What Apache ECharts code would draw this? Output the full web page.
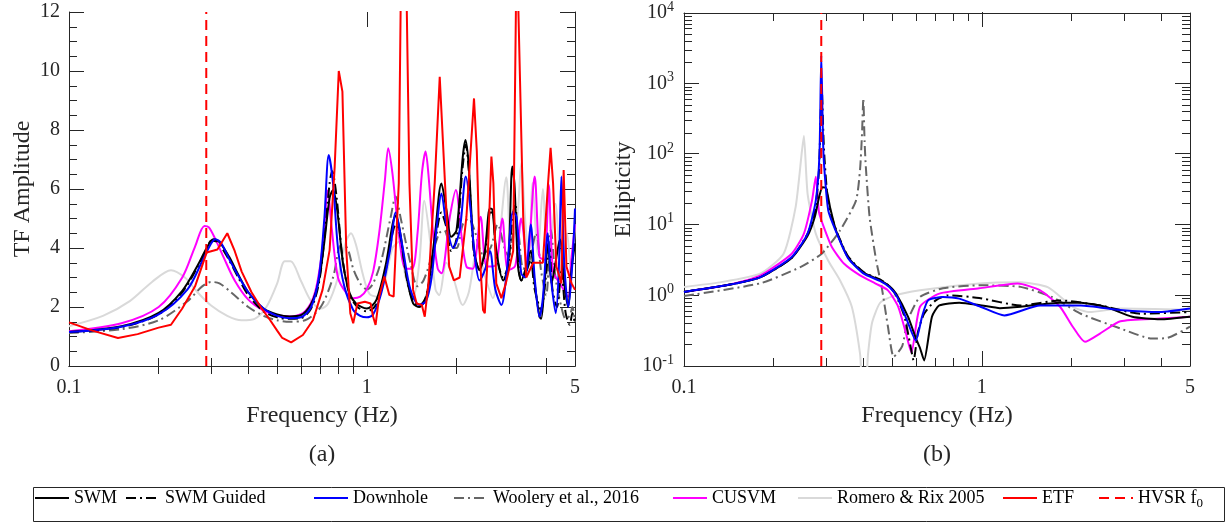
<!DOCTYPE html>
<html>
<head>
<meta charset="utf-8">
<script src="https://cdn.jsdelivr.net/npm/echarts@6/dist/echarts.min.js"></script>
<style>html,body{margin:0;padding:0;background:#fff}#c{width:1228px;height:527px}</style>
</head>
<body>
<div id="c"></div>
<script>
// ---------- tick definitions ----------
const freqLabels = [0.1, 1, 5];
const freqMinorTicks = [0.2, 0.3, 0.4, 0.5, 0.6, 0.7, 0.8, 0.9, 2, 3, 4];
const freqMajorTicks = [1];
const ellLabels = [0.1, 1, 10, 100, 1000, 10000];
const ellMajorTicks = [1, 10, 100, 1000];
const ellMinorTicks = [0.2,0.3,0.4,0.5,0.6,0.7,0.8,0.9,2,3,4,5,6,7,8,9,20,30,40,50,60,70,80,90,200,300,400,500,600,700,800,900,2000,3000,4000,5000,6000,7000,8000,9000];
const hvsrF0 = 0.289;

// ---------- (a) TF amplitude: [frequency Hz, amplitude] ----------
const tfSWM = [[0.1,1.15],[0.15,1.35],[0.2,1.8],[0.24,2.55],[0.27,3.4],[0.29,4.0],[0.305,4.3],[0.32,4.2],[0.345,3.7],[0.37,3.1],[0.4,2.5],[0.45,1.95],[0.5,1.75],[0.55,1.68],[0.6,1.72],[0.65,2.1],[0.69,2.9],[0.72,4.2],[0.75,5.7],[0.77,5.97],[0.795,5.3],[0.832,3.48],[0.876,2.46],[0.92,2.12],[1.0,1.95],[1.077,2.24],[1.16,3.48],[1.22,4.8],[1.25,5.1],[1.29,4.6],[1.36,3.03],[1.43,2.12],[1.5,2.0],[1.585,2.35],[1.69,4.38],[1.78,6.19],[1.85,5.3],[1.92,4.38],[2.0,4.6],[2.1,7.1],[2.145,7.66],[2.2,6.76],[2.29,3.93],[2.39,3.25],[2.49,3.9],[2.59,5.34],[2.64,5.3],[2.72,3.93],[2.87,2.9],[2.98,3.37],[3.08,6.76],[3.13,6.19],[3.22,3.37],[3.3,2.9],[3.43,3.37],[3.55,3.9],[3.66,2.8],[3.8,1.67],[3.85,1.6],[3.95,2.8],[4.06,4.16],[4.17,2.8],[4.3,3.5],[4.45,4.3],[4.6,2.8],[4.74,2.0],[4.87,3.3],[5.0,4.16]];
const tfSWMGuided = [[0.1,1.15],[0.15,1.32],[0.2,1.75],[0.24,2.5],[0.27,3.35],[0.29,3.95],[0.3,4.25],[0.315,4.2],[0.34,3.7],[0.37,3.0],[0.4,2.4],[0.45,1.85],[0.5,1.65],[0.55,1.6],[0.6,1.62],[0.65,1.95],[0.69,2.8],[0.72,4.3],[0.75,6.2],[0.765,6.6],[0.79,5.8],[0.83,3.6],[0.876,2.4],[0.93,2.0],[1.0,1.85],[1.077,2.1],[1.16,3.3],[1.22,4.5],[1.25,4.8],[1.29,4.5],[1.36,3.0],[1.43,2.2],[1.5,2.05],[1.585,2.4],[1.69,4.1],[1.78,5.2],[1.85,4.7],[1.92,3.9],[2.0,4.3],[2.1,6.8],[2.15,7.5],[2.2,6.6],[2.29,3.8],[2.39,3.3],[2.49,3.8],[2.6,5.2],[2.65,5.2],[2.72,3.8],[2.87,3.0],[2.98,3.4],[3.08,5.0],[3.15,5.5],[3.22,3.6],[3.3,2.9],[3.43,3.2],[3.55,3.6],[3.66,2.6],[3.85,1.9],[3.95,2.6],[4.1,4.0],[4.2,2.6],[4.35,2.0],[4.5,3.2],[4.65,1.8],[4.8,1.4],[4.9,1.8],[5.0,1.4]];
const tfDownhole = [[0.1,1.15],[0.15,1.33],[0.2,1.75],[0.25,2.6],[0.28,3.55],[0.3,4.15],[0.31,4.3],[0.325,4.15],[0.35,3.5],[0.4,2.5],[0.45,1.95],[0.5,1.7],[0.55,1.62],[0.6,1.65],[0.65,2.0],[0.69,3.0],[0.72,5.0],[0.745,7.15],[0.77,6.2],[0.8,4.0],[0.84,2.7],[0.9,1.9],[0.95,1.7],[1.0,1.65],[1.05,1.75],[1.12,2.5],[1.2,4.0],[1.25,5.2],[1.32,4.0],[1.4,2.6],[1.5,2.07],[1.58,2.2],[1.65,3.0],[1.72,4.8],[1.78,5.85],[1.85,4.8],[1.95,4.0],[2.05,4.6],[2.15,6.42],[2.22,5.5],[2.3,3.8],[2.39,2.9],[2.5,3.3],[2.59,3.9],[2.7,2.6],[2.83,2.07],[2.95,3.2],[3.1,5.23],[3.18,5.06],[3.3,3.14],[3.4,3.0],[3.55,4.8],[3.66,3.0],[3.8,1.67],[3.9,2.3],[4.05,4.5],[4.15,3.0],[4.31,1.79],[4.42,3.5],[4.5,6.42],[4.6,3.5],[4.75,2.0],[4.9,3.5],[5.0,5.34]];
const tfWoolery = [[0.1,1.12],[0.15,1.25],[0.2,1.55],[0.25,2.2],[0.28,2.7],[0.3,2.85],[0.32,2.8],[0.35,2.5],[0.4,2.0],[0.45,1.7],[0.5,1.55],[0.55,1.5],[0.62,1.55],[0.7,2.0],[0.77,3.0],[0.82,4.1],[0.86,4.0],[0.9,3.3],[0.95,2.8],[1.0,2.6],[1.05,2.8],[1.12,3.6],[1.2,5.0],[1.25,5.75],[1.3,5.0],[1.4,3.5],[1.48,2.7],[1.55,2.9],[1.65,3.7],[1.75,4.5],[1.82,4.6],[1.92,4.0],[2.0,4.0],[2.1,4.8],[2.2,5.0],[2.3,4.6],[2.45,3.8],[2.6,4.0],[2.75,4.8],[2.9,4.0],[3.0,3.7],[3.1,4.5],[3.2,4.6],[3.35,3.3],[3.5,3.5],[3.7,4.5],[3.85,3.2],[4.0,2.4],[4.15,4.6],[4.3,3.0],[4.5,2.0],[4.65,1.6],[4.8,1.7],[4.9,2.0],[5.0,1.5]];
const tfCUSVM = [[0.1,1.18],[0.15,1.45],[0.2,2.0],[0.24,3.0],[0.265,4.05],[0.285,4.75],[0.295,4.7],[0.31,4.3],[0.33,3.7],[0.36,2.9],[0.4,2.25],[0.45,1.88],[0.5,1.72],[0.56,1.68],[0.62,1.85],[0.67,2.5],[0.71,4.0],[0.74,5.95],[0.76,4.8],[0.8,3.0],[0.85,2.5],[0.9,2.3],[0.95,2.35],[1.0,2.6],[1.05,3.2],[1.1,4.5],[1.15,6.3],[1.18,7.38],[1.22,6.5],[1.28,4.5],[1.35,3.3],[1.42,3.3],[1.48,4.5],[1.53,6.5],[1.575,7.27],[1.61,6.5],[1.67,4.5],[1.73,3.3],[1.78,3.14],[1.9,5.06],[1.99,5.97],[2.08,4.4],[2.16,3.37],[2.27,3.3],[2.41,5.06],[2.53,3.37],[2.7,3.4],[2.85,5.0],[2.98,3.25],[3.15,3.4],[3.3,5.0],[3.45,3.5],[3.66,6.42],[3.8,3.7],[3.95,3.6],[4.08,6.14],[4.22,3.2],[4.45,2.8],[4.74,2.35],[4.85,3.5],[5.0,4.8]];
const tfRomero = [[0.1,1.35],[0.13,1.7],[0.16,2.2],[0.19,2.85],[0.22,3.25],[0.245,3.0],[0.27,2.5],[0.3,2.05],[0.34,1.7],[0.38,1.55],[0.42,1.6],[0.46,2.0],[0.5,2.8],[0.53,3.55],[0.555,3.55],[0.6,2.9],[0.65,2.2],[0.7,1.95],[0.74,2.1],[0.8,3.0],[0.85,4.2],[0.885,4.5],[0.92,4.1],[0.97,3.1],[1.02,2.45],[1.08,2.35],[1.15,2.9],[1.22,4.0],[1.28,4.2],[1.35,3.0],[1.43,2.3],[1.5,3.5],[1.56,5.6],[1.62,4.5],[1.7,2.6],[1.75,2.4],[1.85,3.5],[1.95,3.0],[2.1,2.07],[2.2,2.5],[2.35,4.0],[2.5,3.0],[2.65,2.3],[2.8,4.5],[2.94,6.4],[3.05,4.0],[3.2,5.0],[3.3,6.87],[3.4,5.0],[3.5,3.5],[3.6,6.2],[3.75,3.8],[3.9,6.0],[4.05,3.0],[4.3,5.5],[4.5,3.0],[4.7,4.5],[4.85,3.2],[5.0,4.8]];
const tfETF = [[0.1,1.48],[0.12,1.2],[0.146,0.95],[0.17,1.08],[0.2,1.3],[0.22,1.4],[0.24,1.95],[0.265,2.7],[0.29,3.85],[0.315,3.95],[0.34,4.5],[0.36,3.9],[0.38,3.2],[0.41,2.5],[0.44,2.0],[0.47,1.6],[0.5,1.2],[0.52,0.95],[0.557,0.8],[0.61,1.05],[0.66,1.56],[0.71,2.58],[0.75,3.93],[0.78,6.76],[0.805,10.0],[0.828,9.3],[0.853,3.93],[0.88,1.79],[0.9,1.45],[0.93,2.12],[0.985,2.18],[1.03,2.12],[1.05,1.67],[1.07,1.39],[1.1,2.35],[1.145,3.03],[1.19,2.41],[1.23,2.35],[1.28,6.19],[1.3,12.5],[1.36,12.5],[1.39,6.2],[1.43,2.58],[1.47,2.12],[1.53,2.07],[1.565,1.67],[1.61,2.8],[1.69,6.19],[1.757,9.8],[1.83,6.2],[1.89,3.37],[1.96,2.9],[2.05,3.0],[2.16,5.06],[2.29,9.07],[2.34,7.3],[2.39,3.93],[2.456,1.9],[2.49,1.79],[2.55,3.9],[2.62,7.1],[2.66,6.2],[2.72,2.8],[2.83,2.3],[2.93,2.8],[3.1,3.9],[3.17,12.5],[3.22,12.5],[3.35,5.06],[3.43,3.0],[3.62,3.5],[3.9,3.5],[4.06,6.2],[4.14,7.4],[4.22,6.2],[4.33,3.37],[4.5,2.8],[4.58,6.64],[4.68,3.37],[4.87,2.8],[5.0,2.58]];

// ---------- (b) Ellipticity: [frequency Hz, ellipticity] ----------
const elSWM = [[0.1,1.12],[0.14,1.4],[0.18,1.8],[0.23,3.4],[0.26,7],[0.275,13],[0.285,26],[0.292,34],[0.3,33],[0.31,17],[0.324,8.3],[0.355,3.5],[0.4,2.1],[0.455,1.65],[0.49,1.35],[0.515,1.06],[0.565,0.5],[0.6,0.25],[0.62,0.18],[0.64,0.12],[0.68,0.5],[0.72,0.72],[0.84,0.79],[1.0,0.72],[1.15,0.66],[1.35,0.69],[1.83,0.79],[2.15,0.79],[2.6,0.69],[3.2,0.5],[3.97,0.46],[5.0,0.5]];
const elSWMGuided = [[0.1,1.12],[0.14,1.4],[0.18,1.8],[0.23,3.4],[0.26,7.5],[0.275,15],[0.284,60],[0.29,900],[0.295,120],[0.305,20],[0.324,8.5],[0.355,3.6],[0.4,2.15],[0.455,1.68],[0.49,1.35],[0.515,1.0],[0.55,0.5],[0.575,0.2],[0.59,0.12],[0.61,0.3],[0.64,0.55],[0.7,0.85],[0.77,1.0],[0.98,0.92],[1.35,0.72],[1.83,0.85],[2.5,0.72],[3.4,0.55],[5.0,0.58]];
const elDownhole = [[0.1,1.12],[0.14,1.4],[0.18,1.8],[0.23,3.5],[0.26,7.5],[0.277,22],[0.285,100],[0.289,2500],[0.294,100],[0.305,16],[0.324,8],[0.355,3.4],[0.4,2.05],[0.455,1.6],[0.49,1.3],[0.52,0.95],[0.56,0.45],[0.6,0.23],[0.63,0.5],[0.66,0.85],[0.74,0.95],[0.84,0.9],[1.0,0.68],[1.19,0.52],[1.57,0.72],[2.15,0.72],[2.92,0.62],[3.97,0.58],[5.0,0.65]];
const elWoolery = [[0.1,0.98],[0.18,1.48],[0.245,2.5],[0.29,3.9],[0.334,8.3],[0.378,22],[0.39,60],[0.396,195],[0.4,620],[0.404,150],[0.408,65],[0.42,12.8],[0.442,3.1],[0.461,1.32],[0.484,0.36],[0.506,0.135],[0.54,0.19],[0.565,0.45],[0.62,0.95],[0.74,1.26],[0.98,1.39],[1.35,1.32],[1.72,0.95],[2.15,0.55],[2.92,0.34],[3.73,0.245],[4.2,0.25],[5.0,0.36]];
const elCUSVM = [[0.1,1.12],[0.14,1.4],[0.18,1.9],[0.23,3.9],[0.2527,7.5],[0.269,22],[0.277,48],[0.284,15],[0.295,9.2],[0.314,4.8],[0.345,2.8],[0.39,1.92],[0.44,1.47],[0.484,1.18],[0.524,0.69],[0.555,0.3],[0.58,0.155],[0.62,0.69],[0.72,1.06],[0.98,1.26],[1.32,1.47],[1.57,1.18],[1.83,0.69],[2.02,0.36],[2.22,0.22],[2.5,0.29],[2.92,0.43],[3.97,0.47],[5.0,0.5]];
const elRomero = [[0.1,1.32],[0.132,1.53],[0.18,2.03],[0.216,3.9],[0.237,17.8],[0.249,113],[0.2527,182],[0.26,27.5],[0.277,7.5],[0.305,3.1],[0.334,1.64],[0.366,0.69],[0.39,0.15],[0.397,0.06],[0.408,0.06],[0.415,0.15],[0.428,0.41],[0.455,0.78],[0.5,0.97],[0.62,1.18],[0.98,1.47],[1.35,1.53],[1.67,1.3],[2.02,0.69],[2.3,0.58],[2.92,0.65],[5.0,0.62]];

const legendNames = ['SWM','SWM Guided','Downhole','Woolery et al., 2016','CUSVM','Romero & Rix 2005','ETF','HVSR f0'];

// ---------- styling ----------
const FONT = 'Liberation Serif';
const AX = '#262626';
const styles = {
  'SWM': {color:'#000000', type:'solid'},
  'SWM Guided': {color:'#000000', type:[10,4,2,4]},
  'Downhole': {color:'#0000ff', type:'solid'},
  'Woolery et al., 2016': {color:'#666666', type:[10,4,2,4]},
  'CUSVM': {color:'#ff00ff', type:'solid'},
  'Romero & Rix 2005': {color:'#d9d9d9', type:'solid'},
  'ETF': {color:'#ff0000', type:'solid'},
  'HVSR f0': {color:'#ff0000', type:[10,6]}
};
// left edge of each legend entry (line icon start), px
const legendLefts = [34, 125, 313, 453, 672, 797, 1002, 1098];

function xAxes(gridIdx, withLabels) {
  const base = {type:'log', logBase:10, min:0.1, max:5, gridIndex:gridIdx, splitLine:{show:false},
    axisLine:{show:true, lineStyle:{color:AX, width:1}}};
  const bottom = Object.assign({}, base, {position:'bottom',
    axisTick:{show:true, inside:true, length:8, customValues:freqMinorTicks, lineStyle:{color:AX}},
    axisLabel:{show:withLabels, customValues:freqLabels, margin:12, color:AX, fontFamily:FONT, fontSize:20,
      formatter:v => String(+(+v).toPrecision(3))},
    name: withLabels ? 'Frequency (Hz)' : '', nameLocation:'middle', nameGap:38,
    nameTextStyle:{fontFamily:FONT, fontSize:24, color:AX}});
  const top = Object.assign({}, base, {position:'top',
    axisTick:{show:true, inside:true, length:8, customValues:freqMinorTicks, lineStyle:{color:AX}},
    axisLabel:{show:false}});
  return [bottom, top];
}
function xMajorAxes(gridIdx) {
  const base = {type:'log', logBase:10, min:0.1, max:5, gridIndex:gridIdx, splitLine:{show:false},
    axisLine:{show:false}, axisLabel:{show:false},
    axisTick:{show:true, inside:true, length:15, customValues:freqMajorTicks, lineStyle:{color:AX}}};
  return [Object.assign({}, base, {position:'bottom'}), Object.assign({}, base, {position:'top'})];
}

const grids = [
  {left:69, top:12, width:506, height:354},
  {left:69, top:12, width:506, height:354},
  {left:684, top:12, width:506, height:354},
  {left:684, top:12, width:506, height:354}
];

const xAxisList = [].concat(xAxes(0, true), xMajorAxes(1), xAxes(2, true), xMajorAxes(3));

const ampBase = {type:'value', min:0, max:12, interval:2, splitLine:{show:false},
  axisLine:{show:true, lineStyle:{color:AX}},
  axisTick:{show:true, inside:true, length:15, lineStyle:{color:AX}},
  minorTick:{show:true, splitNumber:4, length:8, lineStyle:{color:AX}}};
const ellBase = {type:'log', logBase:10, min:0.1, max:10000, splitLine:{show:false},
  axisLine:{show:true, lineStyle:{color:AX}},
  axisTick:{show:true, inside:true, length:8, customValues:ellMinorTicks, lineStyle:{color:AX}}};
const ellMajor = {type:'log', logBase:10, min:0.1, max:10000, splitLine:{show:false},
  axisLine:{show:false}, axisLabel:{show:false},
  axisTick:{show:true, inside:true, length:15, customValues:ellMajorTicks, lineStyle:{color:AX}}};

const yAxisList = [
  Object.assign({}, ampBase, {gridIndex:0, position:'left',
    axisLabel:{color:AX, fontFamily:FONT, fontSize:20, margin:9},
    name:'TF Amplitude', nameLocation:'middle', nameGap:34, nameRotate:90,
    nameTextStyle:{fontFamily:FONT, fontSize:24, color:AX}}),
  Object.assign({}, ampBase, {gridIndex:0, position:'right', axisLabel:{show:false}}),
  {type:'value', min:0, max:12, gridIndex:1, show:false},
  Object.assign({}, ellBase, {gridIndex:2, position:'left',
    axisLabel:{customValues:ellLabels, color:AX, fontFamily:FONT, fontSize:20, margin:10,
      formatter:v => '{b|10}{s|' + Math.round(Math.log10(v)) + '}',
      rich:{b:{fontFamily:FONT, fontSize:20, color:AX}, s:{fontFamily:FONT, fontSize:14, color:AX, padding:[0,0,12,0]}}},
    name:'Ellipticity', nameLocation:'middle', nameGap:48, nameRotate:90,
    nameTextStyle:{fontFamily:FONT, fontSize:24, color:AX}}),
  Object.assign({}, ellBase, {gridIndex:2, position:'right', axisLabel:{show:false}}),
  Object.assign({}, ellMajor, {gridIndex:3, position:'left'}),
  Object.assign({}, ellMajor, {gridIndex:3, position:'right'})
];

function mk(name, data, xi, yi, smooth) {
  const s = styles[name];
  return {name:name, type:'line', data:data, xAxisIndex:xi, yAxisIndex:yi, symbol:'none', showSymbol:false,
    smooth:smooth, clip:true, animation:false, silent:true,
    lineStyle:{color:s.color, width:2, type:s.type}, itemStyle:{color:s.color}};
}

const series = [
  mk('Romero & Rix 2005', tfRomero, 0, 0, 0.3),
  mk('Woolery et al., 2016', tfWoolery, 0, 0, 0.3),
  mk('CUSVM', tfCUSVM, 0, 0, 0.3),
  mk('SWM Guided', tfSWMGuided, 0, 0, 0.3),
  mk('SWM', tfSWM, 0, 0, 0.3),
  mk('Downhole', tfDownhole, 0, 0, 0.3),
  mk('ETF', tfETF, 0, 0, false),
  mk('HVSR f0', [[hvsrF0, 0], [hvsrF0, 12]], 0, 0, false),
  mk('Romero & Rix 2005', elRomero, 4, 3, 0.2),
  mk('Woolery et al., 2016', elWoolery, 4, 3, 0.2),
  mk('CUSVM', elCUSVM, 4, 3, 0.2),
  mk('SWM Guided', elSWMGuided, 4, 3, 0.2),
  mk('SWM', elSWM, 4, 3, 0.2),
  mk('Downhole', elDownhole, 4, 3, 0.2),
  mk('HVSR f0', [[hvsrF0, 0.1], [hvsrF0, 10000]], 4, 3, false)
];

const legends = legendNames.map((n, i) => ({
  data:[n], left:legendLefts[i], top:489, orient:'horizontal', padding:0,
  itemWidth:34, itemHeight:14, selectedMode:false,
  itemStyle:{color:'rgba(0,0,0,0)', borderWidth:0, opacity:0},
  textStyle:{fontFamily:FONT, fontSize:18, color:'#000',
    rich:{n:{fontFamily:FONT, fontSize:18, color:'#000'}, sub:{fontFamily:FONT, fontSize:13, color:'#000', padding:[12,0,0,0]}}},
  formatter:v => v === 'HVSR f0' ? '{n|HVSR f}{sub|0}' : v
}));

const chart = echarts.init(document.getElementById('c'), null, {renderer:'canvas'});
chart.setOption({
  animation:false,
  backgroundColor:'#ffffff',
  grid:grids,
  xAxis:xAxisList,
  yAxis:yAxisList,
  legend:legends,
  graphic:[
    {type:'rect', shape:{x:33.5, y:487.5, width:1191, height:34}, style:{fill:'none', stroke:'#262626', lineWidth:1}, silent:true},
    {type:'text', x:322, y:455, style:{text:'(a)', fontFamily:FONT, fontSize:24, fill:AX, align:'center', verticalAlign:'middle'}},
    {type:'text', x:937, y:455, style:{text:'(b)', fontFamily:FONT, fontSize:24, fill:AX, align:'center', verticalAlign:'middle'}}
  ],
  series:series
});
</script>
</body>
</html>
